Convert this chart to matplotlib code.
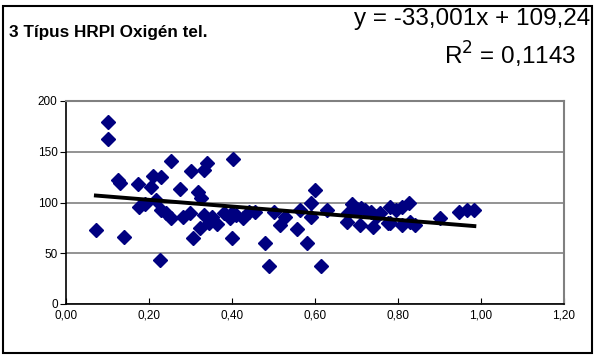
import matplotlib
matplotlib.use("Agg")
import matplotlib.pyplot as plt
from matplotlib.patches import Rectangle
from matplotlib.ticker import FuncFormatter
import numpy as np

plt.rcParams['font.family'] = ['Liberation Sans', 'DejaVu Sans']

title = "3 Típus HRPI Oxigén tel."
slope = -33.001
intercept = 109.24
r2 = 0.1143

x_vals = [0.072, 0.10, 0.10, 0.125, 0.13, 0.14, 0.173, 0.175, 0.19, 0.206,
          0.21, 0.216, 0.226, 0.23, 0.23, 0.24, 0.254, 0.254, 0.274, 0.283,
          0.298, 0.30, 0.307, 0.317, 0.326, 0.324, 0.333, 0.333, 0.34, 0.345,
          0.353, 0.365, 0.38, 0.396, 0.40, 0.403, 0.40, 0.41, 0.427, 0.44,
          0.456, 0.48, 0.49, 0.50, 0.516, 0.527, 0.557, 0.565, 0.58, 0.60,
          0.59, 0.59, 0.614, 0.63, 0.677, 0.68, 0.69, 0.70, 0.708, 0.71,
          0.72, 0.735, 0.74, 0.75, 0.756, 0.775, 0.78, 0.78, 0.795, 0.81,
          0.81, 0.826, 0.828, 0.842, 0.90, 0.948, 0.967, 0.984]
y_vals = [73, 179, 163, 122, 119, 66, 118, 96, 99, 115,
          126, 102, 43, 125, 93, 90, 141, 85, 113, 86,
          90, 131, 65, 110, 104, 75, 132, 88, 139, 80,
          86, 79, 90, 85, 65, 143, 90, 88, 85, 91,
          91, 60, 37, 91, 78, 86, 74, 93, 60, 112,
          100, 86, 37, 93, 81, 90, 99, 94, 78, 95,
          93, 91, 76, 87, 90, 80, 96, 80, 93, 96,
          78, 100, 81, 78, 85, 91, 93, 93]

x_ticks = [0.0, 0.2, 0.4, 0.6, 0.8, 1.0, 1.2]
y_ticks = [0, 50, 100, 150, 200]

fig = plt.figure(figsize=(5.98, 3.59), dpi=100)
fig.patch.set_facecolor('white')
ax = fig.add_axes([66/598, 1-304/359, 498/598, 203/359])

ax.set_xlim(0, 1.2)
ax.set_ylim(0, 200)
ax.set_xticks(x_ticks)
ax.set_yticks(y_ticks)
ax.xaxis.set_major_formatter(FuncFormatter(lambda v, p: f"{v:.2f}".replace('.', ',')))
ax.yaxis.set_major_formatter(FuncFormatter(lambda v, p: f"{int(v)}"))
ax.tick_params(axis='x', direction='in', length=4, labelsize=8.5, pad=4, color='black')
ax.tick_params(axis='y', direction='out', length=4, labelsize=8.5, pad=2, color='black')

ax.grid(axis='y', color='#808080', linewidth=1.2)
ax.set_axisbelow(True)
for s in ['top', 'right']:
    ax.spines[s].set_color('#808080')
    ax.spines[s].set_linewidth(1.5)
for s in ['left', 'bottom']:
    ax.spines[s].set_color('black')
    ax.spines[s].set_linewidth(1.2)

ax.plot(x_vals, y_vals, linestyle='none', marker='D', markersize=7,
        color='#000080', markeredgecolor='#000080', zorder=3)

xs = np.array([min(x_vals), max(x_vals)])
ax.plot(xs, slope * xs + intercept, color='black', linewidth=2.8, zorder=4)

fig.text(9/598, 1-32/359, title, fontsize=12.3, fontweight='bold', ha='left', va='center')
eq = f"y = {slope:.3f}x + {intercept:.2f}".replace('.', ',')
fig.text(590/598, 1-19/359, eq, fontsize=17.5, ha='right', va='center')
fig.text(576/598, 1-55/359, "R$^2$ = " + f"{r2:.4f}".replace('.', ','), fontsize=17.5, ha='right', va='center')

fig.patches.append(Rectangle((3/598, 6/359), 589/598, 347/359, transform=fig.transFigure,
                             fill=False, edgecolor='black', linewidth=1.5))

fig.savefig("out.png", dpi=100)
